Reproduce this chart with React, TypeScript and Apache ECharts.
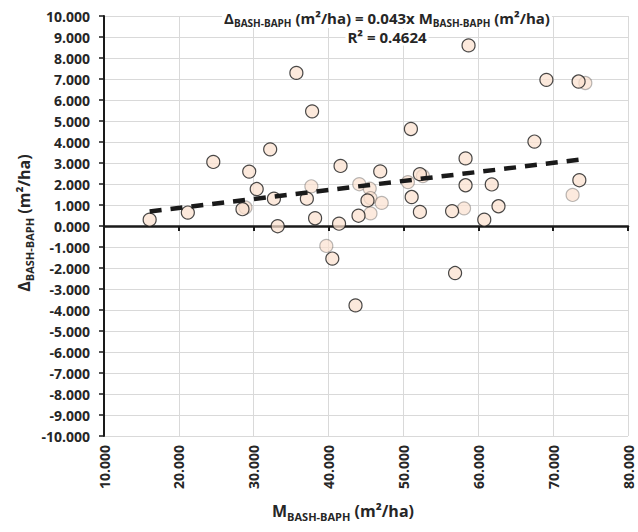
import React, { useEffect, useRef } from 'react';
import * as echarts from 'echarts';

// Points with a solid dark outline (M, Δ) in m²/ha
const solidPoints: [number, number][] = [
  [16.1, 0.30], [21.2, 0.64], [24.6, 3.05], [29.4, 2.59], [28.5, 0.80],
  [30.4, 1.76], [32.2, 3.65], [32.7, 1.30], [33.2, -0.01], [35.7, 7.29],
  [37.8, 5.46], [37.1, 1.30], [38.2, 0.37], [41.6, 2.86], [41.4, 0.11],
  [44.0, 0.49], [45.2, 1.22], [40.5, -1.55], [43.6, -3.78], [46.9, 2.60],
  [52.2, 2.47], [51.1, 1.38], [52.2, 0.67], [56.5, 0.71], [58.3, 1.94],
  [58.3, 3.22], [60.8, 0.30], [61.8, 1.98], [62.7, 0.94], [73.5, 2.18],
  [56.9, -2.24], [58.7, 8.60], [69.1, 6.96], [73.4, 6.88], [51.0, 4.62],
  [67.5, 4.02],
];

// Points drawn semi-transparent
const fadedPoints: [number, number][] = [
  [28.9, 0.88], [37.7, 1.89], [44.1, 1.99], [45.5, 1.78], [45.6, 0.60],
  [45.6, 1.33], [47.1, 1.10], [39.7, -0.95], [50.6, 2.09], [52.6, 2.38],
  [58.1, 0.84], [72.6, 1.48], [74.3, 6.81],
];

// Linear trend line endpoints (y = 0.043x)
const trendLine: [number, number][] = [[16.1, 0.69], [74.3, 3.19]];

const xMin = 10;
const xMax = 80;
const xStep = 10;
const yMin = -10;
const yMax = 10;
const yStep = 1;

const equationText = 'Δ|BASH-BAPH| (m²/ha) = 0.043x M|BASH-BAPH| (m²/ha)';
const r2Text = 'R² = 0.4624';
const xTitle = 'M|BASH-BAPH| (m²/ha)';
const yTitle = 'Δ|BASH-BAPH| (m²/ha)';

const FONT = '"Open Sans", Lato, sans-serif';
const TEXT_COLOR = '#262626';

function toRich(t: string): string {
  const parts = t.split('|');
  return parts.map((p, i) => (i % 2 === 1 ? `{s|${p}}` : `{m|${p}}`)).join('');
}

function richStyles(size: number, subSize: number) {
  return {
    m: { fontSize: size, fontWeight: 'bold', fontFamily: FONT, fill: TEXT_COLOR, lineHeight: size + 5 },
    s: { fontSize: subSize, fontWeight: 'bold', fontFamily: FONT, fill: TEXT_COLOR, lineHeight: subSize, verticalAlign: 'bottom' },
  };
}

export default function App() {
  const ref = useRef<HTMLDivElement>(null);
  useEffect(() => {
    const chart = echarts.init(ref.current!, null, { renderer: 'svg' });
    const gridColor = '#d9d9d9';
    chart.setOption({
      animation: false,
      backgroundColor: '#ffffff',
      grid: { left: 104, top: 16, width: 524, height: 420, containLabel: false },
      xAxis: [
        {
          type: 'value',
          position: 'bottom',
          min: xMin,
          max: xMax,
          interval: xStep,
          axisLine: { show: false, onZero: false },
          axisTick: { show: false },
          splitLine: { show: true, lineStyle: { color: gridColor, width: 1 } },
          axisLabel: {
            rotate: 90,
            margin: 9,
            fontSize: 14,
            fontWeight: 'bold',
            fontFamily: FONT,
            color: TEXT_COLOR,
            formatter: (v: number) => v.toFixed(3),
          },
        },
        {
          type: 'value',
          position: 'top',
          min: xMin,
          max: xMax,
          interval: xStep,
          axisLine: { show: true, onZero: true, onZeroAxisIndex: 0, lineStyle: { color: '#1a1a1a', width: 2.5 } },
          axisTick: { show: true, inside: true, length: 5, lineStyle: { color: '#1a1a1a', width: 2 } },
          axisLabel: { show: false },
          splitLine: { show: false },
        },
      ],
      yAxis: {
        type: 'value',
        min: yMin,
        max: yMax,
        interval: yStep,
        axisLine: { show: true, onZero: false, lineStyle: { color: '#1a1a1a', width: 2 } },
        axisTick: { show: true, length: 5, lineStyle: { color: '#1a1a1a', width: 1.5 } },
        splitLine: { show: true, lineStyle: { color: gridColor, width: 1 } },
        axisLabel: {
          margin: 14,
          fontSize: 14,
          fontWeight: 'bold',
          fontFamily: FONT,
          color: TEXT_COLOR,
          formatter: (v: number) => v.toFixed(3),
        },
      },
      series: [
        {
          type: 'scatter',
          xAxisIndex: 0,
          data: fadedPoints,
          symbolSize: 13,
          z: 2,
          itemStyle: { color: 'rgba(251,224,206,0.85)', borderColor: 'rgba(40,40,40,0.4)', borderWidth: 1.2 },
        },
        {
          type: 'scatter',
          xAxisIndex: 0,
          data: solidPoints,
          symbolSize: 13,
          z: 3,
          itemStyle: { color: 'rgba(251,224,206,0.9)', borderColor: '#1a1a1a', borderWidth: 1.2 },
        },
        {
          type: 'line',
          xAxisIndex: 0,
          data: trendLine,
          symbol: 'none',
          z: 4,
          lineStyle: { color: '#1a1a1a', width: 4.5, type: [12, 9], cap: 'butt' },
        },
      ],
      graphic: [
        {
          type: 'text',
          x: 387,
          y: 18,
          z: 10,
          style: {
            text: toRich(equationText),
            rich: richStyles(15, 10),
            align: 'center',
            verticalAlign: 'middle',
            backgroundColor: '#ffffff',
            padding: [0, 2],
          },
        },
        {
          type: 'text',
          x: 387,
          y: 37,
          z: 10,
          style: {
            text: r2Text,
            fontSize: 15,
            fontWeight: 'bold',
            fontFamily: FONT,
            fill: TEXT_COLOR,
            align: 'center',
            verticalAlign: 'middle',
            backgroundColor: '#ffffff',
            padding: [1, 2],
          },
        },
        {
          type: 'text',
          x: 343,
          y: 511,
          style: {
            text: toRich(xTitle),
            rich: richStyles(16, 11),
            align: 'center',
            verticalAlign: 'middle',
          },
        },
        {
          type: 'text',
          x: 24,
          y: 223,
          rotation: Math.PI / 2,
          style: {
            text: toRich(yTitle),
            rich: richStyles(16, 11),
            align: 'center',
            verticalAlign: 'middle',
          },
        },
      ],
    });
    return () => chart.dispose();
  }, []);
  return <div ref={ref} style={{ position: 'fixed', left: 0, top: 0, width: 638, height: 532 }} />;
}
